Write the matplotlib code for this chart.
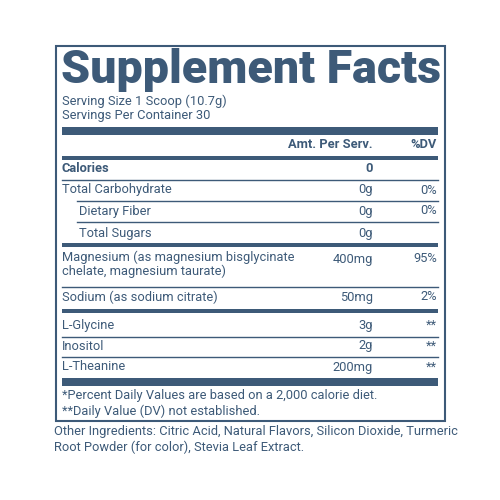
import matplotlib
matplotlib.use("Agg")
import matplotlib.pyplot as plt

C = "#3d5a78"
F = ["Roboto", "DejaVu Sans"]

title = "Supplement Facts"
serving = ["Serving Size 1 Scoop (10.7g)", "Servings Per Container 30"]
header = ["Amt. Per Serv.", "%DV"]
names = ["Calories", "Total Carbohydrate", "Dietary Fiber", "Total Sugars",
         "Magnesium (as magnesium bisglycinate\nchelate, magnesium taurate)",
         "Sodium (as sodium citrate)", "L-Glycine", "Inositol", "L-Theanine"]
amounts = ["0", "0g", "0g", "0g", "400mg", "50mg", "3g", "2g", "200mg"]
dvs = ["", "0%", "0%", "", "95%", "2%", "**", "**", "**"]
indent = [0, 0, 1, 1, 0, 0, 0, 0, 0]
bold = [1, 0, 0, 0, 0, 0, 0, 0, 0]
row_y = [169, 190, 211, 233, 259, 297, 325, 346, 367]
sep_after = ["thin", "thin", "thin", "thick", "thin", "thick", "thin", "thin", "thick"]
sep_y = [180, 201, 222, 245, 287, 311, 337, 357, 382]
footnotes = ["*Percent Daily Values are based on a 2,000 calorie diet.",
             "**Daily Value (DV) not established."]
other = ["Other Ingredients: Citric Acid, Natural Flavors, Silicon Dioxide, Turmeric",
         "Root Powder (for color), Stevia Leaf Extract."]

fig = plt.figure(figsize=(5, 5), dpi=100)
ax = fig.add_axes([0, 0, 1, 1])
ax.set_xlim(0, 500); ax.set_ylim(500, 0); ax.axis("off")

L, R = 62, 438
FS = 9.3
ax.add_patch(plt.Rectangle((55.5, 45.5), 389, 375, fill=False, ec=C, lw=1.5))
ax.text(L - 1, 70, title, fontsize=33.5, fontweight="black", family=F, color=C, va="center")
for i, s in enumerate(serving):
    ax.text(L, 101 + 14 * i, s, fontsize=FS, family=F, color=C, va="center")

def bar(y, h):
    ax.add_patch(plt.Rectangle((L, y - h / 2), R - L, h, color=C, lw=0))

bar(131, 8)
ax.text(373, 145, header[0], fontsize=FS, fontweight="bold", family=F, color=C, va="center", ha="right")
ax.text(R - 1, 145, header[1], fontsize=FS, fontweight="bold", family=F, color=C, va="center", ha="right")
bar(158, 4)

for i in range(len(names)):
    x = 79 if indent[i] else L
    multi = "\n" in names[i]
    ax.text(x, row_y[i] - 8 if multi else row_y[i], names[i], fontsize=FS, family=F, color=C,
            va="top" if multi else "center",
            fontweight="bold" if bold[i] else "normal", linespacing=1.05)
    ax.text(373, row_y[i], amounts[i], fontsize=FS, family=F, color=C, va="center", ha="right",
            fontweight="bold" if bold[i] else "normal")
    if dvs[i]:
        ax.text(R - 1, row_y[i], dvs[i], fontsize=FS, family=F, color=C, va="center", ha="right")
    if sep_after[i] == "thin":
        x0 = 77 if i in (1, 2) else L
        ax.plot([x0, R], [sep_y[i], sep_y[i]], color=C, lw=1)
    else:
        bar(sep_y[i], 8 if i == 8 else 4)

for i, s in enumerate(footnotes):
    ax.text(L, 396 + 15 * i, s, fontsize=FS, family=F, color=C, va="center")
for i, s in enumerate(other):
    ax.text(54, 432 + 15 * i, s, fontsize=FS, family=F, color=C, va="center")

fig.savefig("out.png", dpi=100)
